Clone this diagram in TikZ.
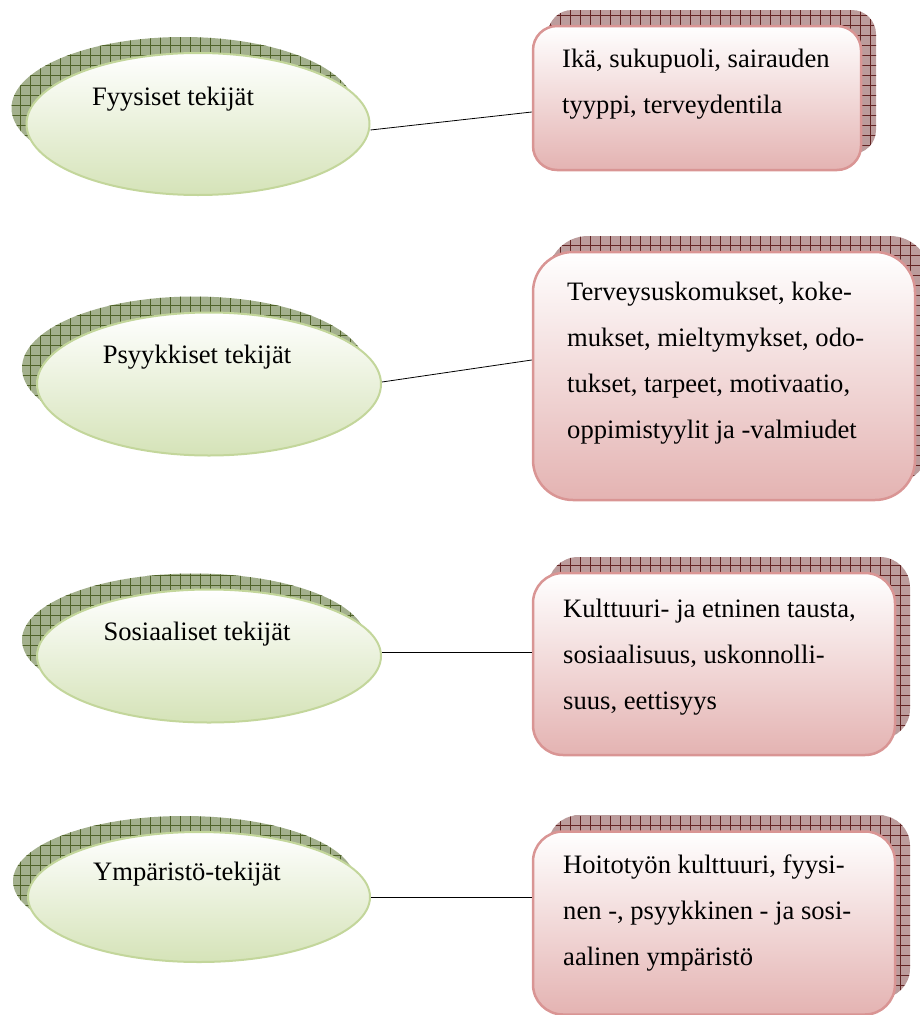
\documentclass[tikz,border=0pt]{standalone}
\usepackage{fontspec}
\setmainfont{Liberation Serif}
\usepackage{tikz}
\usetikzlibrary{shapes, shadows, patterns.meta, positioning}

\definecolor{vihrea}{HTML}{D5E3B8}
\definecolor{vihreareuna}{HTML}{C3D69B}
\definecolor{varjovihrea}{HTML}{A3B08D}
\definecolor{ruutuvihrea}{HTML}{4F6228}
\definecolor{pinkki}{HTML}{E4B3B2}
\definecolor{pinkkireuna}{HTML}{D99594}
\definecolor{varjopinkki}{HTML}{BC9C9C}
\definecolor{ruutupinkki}{HTML}{632423}

\begin{document}
\begin{tikzpicture}[x=1pt, y=-1pt,
    tekija/.style={ellipse, draw=vihreareuna, line width=2pt, top color=white, bottom color=vihrea, inner sep=0pt,
        general shadow={shadow xshift=-15pt, shadow yshift=16pt, fill=varjovihrea},
        general shadow={shadow xshift=-15pt, shadow yshift=16pt, pattern={Hatch[distance=10pt, line width=0.8pt]}, pattern color=ruutuvihrea}},
    selite/.style={rectangle, draw=pinkkireuna, line width=2.5pt, top color=white, bottom color=pinkki, inner sep=0pt,
        general shadow={shadow xshift=15pt, shadow yshift=16pt, fill=varjopinkki},
        general shadow={shadow xshift=15pt, shadow yshift=16pt, pattern={Hatch[distance=10pt, line width=0.8pt]}, pattern color=ruutupinkki}},
    teksti/.style={inner sep=0pt, font=\fontsize{26.6}{46}\selectfont, anchor=base},
    laatikkoteksti/.style={teksti, align=left, anchor=base west}]
        \useasboundingbox (0,0) rectangle (919,1015);
        % tekijat vasemmalla
        \node[tekija, minimum width=343pt, minimum height=142pt] (fe) at (198,124) {};
        \node[tekija, minimum width=344pt, minimum height=143pt] (pe) at (209,384) {};
        \node[tekija, minimum width=344pt, minimum height=133pt] (se) at (209,656) {};
        \node[tekija, minimum width=342pt, minimum height=130pt] (ye) at (199,897) {};
        \node[teksti] (fe_t) at (173,105) {Fyysiset tekijät};
        \node[teksti] (pe_t) at (197,363) {Psyykkiset tekijät};
        \node[teksti] (se_t) at (197,640) {Sosiaaliset tekijät};
        \node[teksti] (ye_t) at (187,880) {Ympäristö-tekijät};
        
        % selitteet oikealla (teksti: viimeisen rivin perusviiva)
        \node[selite, rounded corners=24pt, minimum width=328pt, minimum height=144pt] (ib) at (697,98) {};
        \node[selite, rounded corners=40pt, minimum width=382pt, minimum height=248pt] (tb) at (724,376) {};
        \node[selite, rounded corners=30pt, minimum width=362pt, minimum height=182pt] (kb) at (714,664) {};
        \node[selite, rounded corners=30pt, minimum width=362pt, minimum height=183pt] (hb) at (714,923) {};
        \node[laatikkoteksti] (ib_t) at (562,113) {Ikä, sukupuoli, sairauden\\tyyppi, terveydentila};
        \node[laatikkoteksti] (tb_t) at (567,438) {Terveysuskomukset, koke-\\mukset, mieltymykset, odo-\\tukset, tarpeet, motivaatio,\\oppimistyylit ja -valmiudet};
        \node[laatikkoteksti] (kb_t) at (563,709) {Kulttuuri- ja etninen tausta,\\sosiaalisuus, uskonnolli-\\suus, eettisyys};
        \node[laatikkoteksti] (hb_t) at (563,965) {Hoitotyön kulttuuri, fyysi-\\nen -, psyykkinen - ja sosi-\\aalinen ympäristö};
        
        \path[draw, thick]  ([yshift=-6pt]fe.east) -- ([yshift=-14pt]ib.west);
        \path[draw, thick]  ([yshift=2pt]pe.east) -- ([yshift=16pt]tb.west);
        \path[draw, thick]  ([yshift=4pt]se.east) -- ([yshift=12pt]kb.west);
        \path[draw, thick]  (ye.east) -- ([yshift=26pt]hb.west);
\end{tikzpicture}
\end{document}
